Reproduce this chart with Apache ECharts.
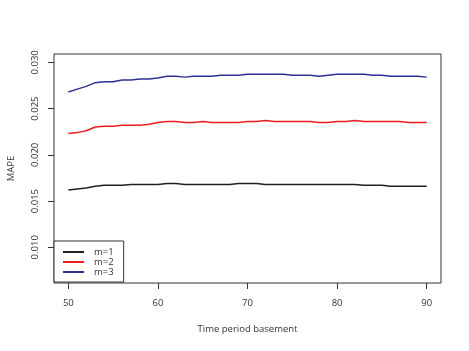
<!DOCTYPE html>
<html>
<head>
<meta charset="utf-8">
<script src="https://cdn.jsdelivr.net/npm/echarts@6/dist/echarts.min.js"></script>
<style>
  html, body { margin: 0; padding: 0; background: #fff; }
  #chart { width: 469px; height: 351px; }
</style>
</head>
<body>
<div id="chart"></div>
<script>
// time period basement, 50..90
const periods = [50, 51, 52, 53, 54, 55, 56, 57, 58, 59, 60, 61, 62, 63, 64, 65, 66, 67, 68, 69, 70,
  71, 72, 73, 74, 75, 76, 77, 78, 79, 80, 81, 82, 83, 84, 85, 86, 87, 88, 89, 90]

const m1 = [0.0162, 0.0163, 0.0164, 0.0166, 0.0167, 0.0167, 0.0167, 0.0168, 0.0168, 0.0168, 0.0168,
  0.0169, 0.0169, 0.0168, 0.0168, 0.0168, 0.0168, 0.0168, 0.0168, 0.0169, 0.0169,
  0.0169, 0.0168, 0.0168, 0.0168, 0.0168, 0.0168, 0.0168, 0.0168, 0.0168, 0.0168,
  0.0168, 0.0168, 0.0167, 0.0167, 0.0167, 0.0166, 0.0166, 0.0166, 0.0166, 0.0166]

const m2 = [0.0223, 0.0224, 0.0226, 0.0230, 0.0231, 0.0231, 0.0232, 0.0232, 0.0232, 0.0233, 0.0235,
  0.0236, 0.0236, 0.0235, 0.0235, 0.0236, 0.0235, 0.0235, 0.0235, 0.0235, 0.0236,
  0.0236, 0.0237, 0.0236, 0.0236, 0.0236, 0.0236, 0.0236, 0.0235, 0.0235, 0.0236,
  0.0236, 0.0237, 0.0236, 0.0236, 0.0236, 0.0236, 0.0236, 0.0235, 0.0235, 0.0235]

const m3 = [0.0268, 0.0271, 0.0274, 0.0278, 0.0279, 0.0279, 0.0281, 0.0281, 0.0282, 0.0282, 0.0283,
  0.0285, 0.0285, 0.0284, 0.0285, 0.0285, 0.0285, 0.0286, 0.0286, 0.0286, 0.0287,
  0.0287, 0.0287, 0.0287, 0.0287, 0.0286, 0.0286, 0.0286, 0.0285, 0.0286, 0.0287,
  0.0287, 0.0287, 0.0287, 0.0286, 0.0286, 0.0285, 0.0285, 0.0285, 0.0285, 0.0284]

const xTicks = [50, 60, 70, 80, 90]
const yTicks = [0.010, 0.015, 0.020, 0.025, 0.030]

const font = 'Open Sans'
const pair = (ys) => periods.map((x, i) => [x, ys[i]])

const mkSeries = (name, data, color) => ({
  name: name,
  type: 'line',
  data: pair(data),
  symbol: 'none',
  lineStyle: { color: color, width: 1.5 },
  itemStyle: { color: color },
  animation: false
})

const chart = echarts.init(document.getElementById('chart'))
chart.setOption({
  backgroundColor: '#fff',
  animation: false,
  grid: {
    left: 54, right: 28, top: 54, bottom: 68,
    outerBoundsMode: 'none',
    containLabel: false,
    show: true, borderColor: '#333', borderWidth: 1, backgroundColor: 'transparent'
  },
  xAxis: {
    type: 'value',
    min: 48.4,
    max: 91.6,
    name: 'Time period basement',
    nameLocation: 'middle',
    nameGap: 41,
    nameTextStyle: { fontFamily: font, fontSize: 9.5, color: '#333' },
    axisLine: { show: false },
    splitLine: { show: false },
    axisTick: { show: true, customValues: xTicks, length: 6, lineStyle: { color: '#333' } },
    axisLabel: { customValues: xTicks, margin: 15, fontFamily: font, fontSize: 9.5, color: '#333' }
  },
  yAxis: {
    type: 'value',
    min: 0.00614,
    max: 0.0309,
    name: 'MAPE',
    nameLocation: 'middle',
    nameGap: 38,
    nameRotate: 90,
    nameTextStyle: { fontFamily: font, fontSize: 9.5, color: '#333' },
    axisLine: { show: false },
    splitLine: { show: false },
    axisTick: { show: true, customValues: yTicks, length: 6, lineStyle: { color: '#333' } },
    axisLabel: {
      customValues: yTicks,
      rotate: 90,
      margin: 14,
      fontFamily: font,
      fontSize: 9.5,
      color: '#333',
      formatter: (v) => v.toFixed(3)
    }
  },
  legend: {
    orient: 'vertical',
    left: 54,
    top: 241,
    padding: [6, 10, 5, 9],
    itemGap: 0,
    itemWidth: 21,
    itemHeight: 10,
    icon: 'path://M0,0 L21,0 L21,2 L0,2 Z',
    backgroundColor: '#fff',
    borderColor: '#333',
    borderWidth: 1,
    borderRadius: 0,
    textStyle: { fontFamily: font, fontSize: 9.5, color: '#333', lineHeight: 10, padding: [0, 0, 0, 5] },
    data: ['m=1', 'm=2', 'm=3']
  },
  series: [
    mkSeries('m=1', m1, '#231f20'),
    mkSeries('m=2', m2, '#ed1c24'),
    mkSeries('m=3', m3, '#2e3192')
  ]
})
</script>
</body>
</html>
